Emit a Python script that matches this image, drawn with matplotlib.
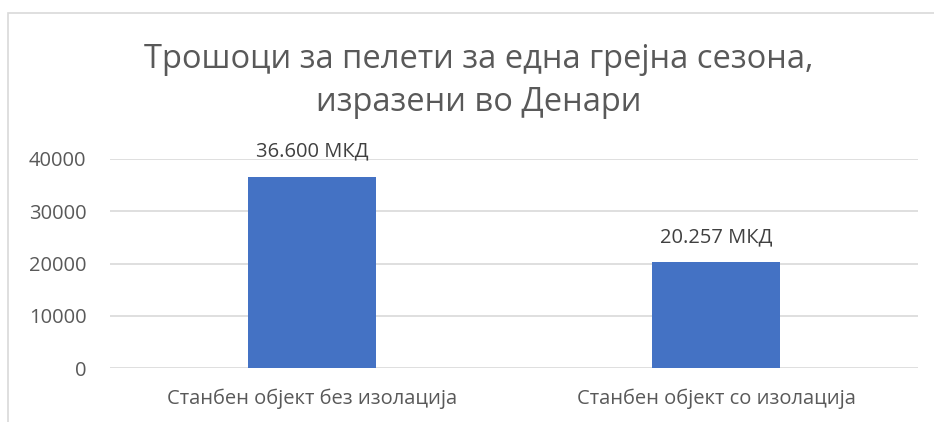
import matplotlib
matplotlib.use('Agg')
import matplotlib.pyplot as plt
from matplotlib.patches import Rectangle

# ------------------------------------------------------------
# Data
# ------------------------------------------------------------
categories = ['Станбен објект без изолација', 'Станбен објект со изолација']
costs = [36600, 20257]
value_labels = ['36.600 МКД', '20.257 МКД']
y_ticks = [0, 10000, 20000, 30000, 40000]

title = 'Трошоци за пелети за една грејна сезона,\nизразени во Денари'

plt.rcParams['font.family'] = ['Open Sans', 'DejaVu Sans']

W, H = 934, 422
fig = plt.figure(figsize=(W / 100, H / 100), dpi=100)

# chart frame (Excel style light border, runs off right/bottom edge)
fig.patches.append(Rectangle((8 / W, -0.5), 2.0, 1.5 - 13 / H, transform=fig.transFigure,
                             fill=False, edgecolor='#d9d9d9', linewidth=1.2))

ax = fig.add_axes([110 / W, 1 - 368 / H, (918 - 110) / W, (368 - 159) / H])

x = range(len(categories))
ax.bar(x, costs, width=0.315, color='#4472C4', zorder=3)

# value labels centred ~25 px above each bar
for xi, v, lab in zip(x, costs, value_labels):
    ax.annotate(lab, (xi, v), xytext=(0, 18), textcoords='offset points',
                ha='center', va='center', fontsize=14.5, color='#404040')

ax.set_xlim(-0.5, 1.5)
ax.set_ylim(0, 40000)
ax.set_yticks(y_ticks)
ax.set_yticklabels([str(t) for t in y_ticks])
ax.set_xticks(list(x))
ax.set_xticklabels(categories)

ax.yaxis.grid(True, color='#d9d9d9', linewidth=1.2, zorder=0)
for s in ax.spines.values():
    s.set_visible(False)
ax.tick_params(axis='both', length=0, labelsize=14.5, colors='#595959')
ax.tick_params(axis='y', pad=17)
ax.tick_params(axis='x', pad=15)

fig.text(479 / W, 1 - 81 / H, title, ha='center', va='center', fontsize=23.5,
         color='#595959', linespacing=1.42)

fig.savefig('out.png', dpi=100)
